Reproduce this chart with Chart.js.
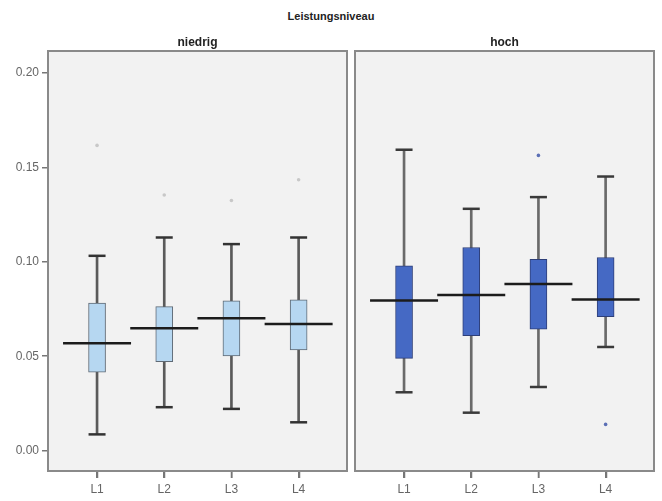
<!DOCTYPE html>
<html>
<head>
<meta charset="utf-8">
<script src="https://cdn.jsdelivr.net/npm/chart.js@4/dist/chart.umd.min.js"></script>
<style>
  html, body { margin: 0; padding: 0; background: #ffffff; }
  #wrap { position: relative; width: 662px; height: 501px; overflow: hidden; }
  #mainTitle { position: absolute; left: 0; top: 10px; width: 662px; text-align: center;
    font: bold 11px "Liberation Sans", Arial, sans-serif; color: #222; }
  #c1 { position: absolute; left: 0; top: 0; }
  #c2 { position: absolute; left: 351px; top: 0; }
</style>
</head>
<body>
<div id="wrap">
  <div id="mainTitle">Leistungsniveau</div>
  <canvas id="c1" width="351" height="501"></canvas>
  <canvas id="c2" width="311" height="501"></canvas>
</div>
<script>
// ---- data ----
const categories = ['L1', 'L2', 'L3', 'L4'];
const groups = ['niedrig', 'hoch'];
const yTickValues = [0.00, 0.05, 0.10, 0.15, 0.20];

const niedrigLow    = [0.0086, 0.0230, 0.0221, 0.0150];
const niedrigQ1     = [0.0415, 0.0471, 0.0502, 0.0533];
const niedrigMedian = [0.0569, 0.0648, 0.0701, 0.0671];
const niedrigQ3     = [0.0781, 0.0763, 0.0793, 0.0799];
const niedrigHigh   = [0.1032, 0.1129, 0.1094, 0.1129];
const niedrigOutliers = [0.1617, 0.1354, 0.1325, 0.1435];

const hochLow    = [0.0309, 0.0201, 0.0337, 0.0549];
const hochQ1     = [0.0489, 0.0609, 0.0643, 0.0710];
const hochMedian = [0.0795, 0.0825, 0.0882, 0.0801];
const hochQ3     = [0.0979, 0.1076, 0.1014, 0.1023];
const hochHigh   = [0.1594, 0.1281, 0.1343, 0.1452];
const hochOutliers = [null, null, 0.1564, 0.0139];

// ---- helpers ----
const panelPlugin = {
  id: 'panel',
  beforeDraw(chart) {
    const a = chart.chartArea, ctx = chart.ctx;
    ctx.save();
    ctx.fillStyle = '#f2f2f2';
    ctx.fillRect(a.left, a.top, a.right - a.left, a.bottom - a.top);
    ctx.restore();
  },
  afterDraw(chart) {
    const a = chart.chartArea, ctx = chart.ctx;
    ctx.save();
    ctx.strokeStyle = '#8a8a8a';
    ctx.lineWidth = 2;
    ctx.strokeRect(a.left, a.top, a.right - a.left, a.bottom - a.top);
    // category tick marks below the panel, placed through the x scale
    const xs = chart.scales.x;
    ctx.strokeStyle = '#777';
    ctx.lineWidth = 1.5;
    xs.ticks.forEach(t => {
      const px = Math.round(xs.getPixelForValue(t.value)) + 0.5;
      ctx.beginPath();
      ctx.moveTo(px, a.bottom + 1);
      ctx.lineTo(px, a.bottom + 7);
      ctx.stroke();
    });
    ctx.restore();
  }
};

function buildDatasets(low, q1, med, q3, high, outl, style) {
  const idx = categories.map((_, i) => i);
  return [
    {
      type: 'bar', label: 'whisker', order: 3, grouped: false,
      data: idx.map(i => ({ x: i, y: [low[i], high[i]] })),
      backgroundColor: style.whisker, borderWidth: 0, barThickness: 2
    },
    {
      type: 'bar', label: 'box', order: 2, grouped: false,
      data: idx.map(i => ({ x: i, y: [q1[i], q3[i]] })),
      backgroundColor: style.fill, borderColor: style.border, borderWidth: 1,
      borderSkipped: false, barThickness: 17
    },
    {
      type: 'scatter', label: 'caps', order: 1,
      data: idx.flatMap(i => [{ x: i, y: low[i] }, { x: i, y: high[i] }]),
      pointStyle: 'line', radius: 8.5, borderWidth: 2.5, borderColor: style.cap
    },
    {
      type: 'scatter', label: 'median', order: 0,
      data: idx.map(i => ({ x: i, y: med[i] })),
      pointStyle: 'line', radius: 34, borderWidth: 2.5, borderColor: '#1c1c1c'
    },
    {
      type: 'scatter', label: 'outliers', order: 0,
      data: idx.filter(i => outl[i] !== null).map(i => ({ x: i, y: outl[i] })),
      pointStyle: 'circle', radius: style.outR, borderWidth: 0,
      backgroundColor: style.out
    }
  ];
}

const tickFont = { family: '"Liberation Sans", Arial, sans-serif', size: 12 };

function makeChart(canvas, title, datasets, showY, padding) {
  return new Chart(canvas, {
    type: 'bar',
    data: { datasets },
    plugins: [panelPlugin],
    options: {
      responsive: false,
      animation: false,
      events: [],
      layout: { padding, autoPadding: false },
      plugins: {
        legend: { display: false },
        tooltip: { enabled: false },
        title: {
          display: true, text: title, fullSize: false,
          color: '#222',
          font: { family: '"Liberation Sans", Arial, sans-serif', size: 12, weight: 'bold', lineHeight: 1.2 },
          padding: { top: 35, bottom: 1.6 }
        }
      },
      scales: {
        x: {
          type: 'linear', offset: false, min: -0.73, max: 3.72,
          afterBuildTicks: s => { s.ticks = categories.map((_, i) => ({ value: i })); },
          afterFit: s => { s.height = 30; },
          ticks: {
            callback: v => categories[v],
            color: '#666', padding: 4, maxRotation: 0, font: tickFont
          },
          grid: {
            display: true, offset: false, drawOnChartArea: false, drawTicks: true,
            tickLength: 7, color: '#777', tickColor: '#777', lineWidth: 1.5, tickWidth: 1.5
          },
          border: { display: false }
        },
        y: {
          type: 'linear', display: showY, min: -0.0108, max: 0.2117,
          afterBuildTicks: s => { s.ticks = yTickValues.map(v => ({ value: v })); },
          afterFit: s => { if (showY) s.width = 48; },
          ticks: {
            callback: v => v.toFixed(2),
            color: '#666', padding: 3, font: tickFont
          },
          grid: {
            display: true, drawOnChartArea: false, drawTicks: true,
            tickLength: 6, color: '#777', tickColor: '#777', lineWidth: 1.5, tickWidth: 1.5
          },
          border: { display: false }
        }
      }
    }
  });
}

makeChart(document.getElementById('c1'), groups[0],
  buildDatasets(niedrigLow, niedrigQ1, niedrigMedian, niedrigQ3, niedrigHigh, niedrigOutliers,
    { whisker: '#5a5a5a', fill: '#b6d7f1', border: '#5f6a75', cap: '#333333', out: '#c8c8c8', outR: 1.8 }),
  true, { left: 0, right: 4, top: 0, bottom: 0 });

makeChart(document.getElementById('c2'), groups[1],
  buildDatasets(hochLow, hochQ1, hochMedian, hochQ3, hochHigh, hochOutliers,
    { whisker: '#6a6a6a', fill: '#4569c4', border: '#2e3f78', cap: '#3a3a3a', out: '#5b6fb5', outR: 1.8 }),
  false, { left: 4, right: 8, top: 0, bottom: 0 });
</script>
</body>
</html>
